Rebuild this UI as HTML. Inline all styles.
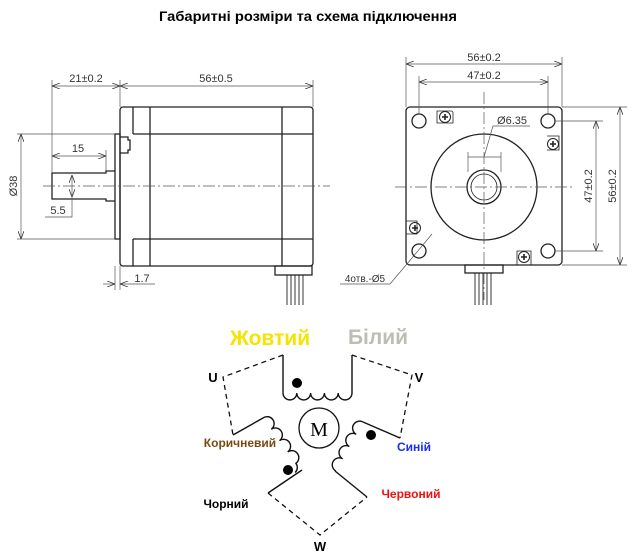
<!DOCTYPE html>
<html><head><meta charset="utf-8"><style>
html,body{margin:0;padding:0;background:#fff}
svg{display:block}
text{font-family:"Liberation Sans",sans-serif}
</style></head><body>
<svg width="635" height="554" viewBox="0 0 635 554" xmlns="http://www.w3.org/2000/svg">
<defs>
<marker id="a" markerWidth="8" markerHeight="6" refX="8" refY="3" orient="auto-start-reverse" markerUnits="userSpaceOnUse"><path d="M0,0 L8,3 L0,6" fill="none" stroke="#333" stroke-width="0.8"/></marker>
</defs>
<text x="308" y="21" text-anchor="middle" font-size="14" font-weight="bold" textLength="298" lengthAdjust="spacingAndGlyphs">Габаритні розміри та схема підключення</text>

<g stroke="#222" fill="none" stroke-width="1.3">
<!-- side view -->
<rect x="120" y="107" width="193" height="159" rx="3"/>
<line x1="150" y1="107" x2="150" y2="266"/><line x1="282" y1="107" x2="282" y2="266"/>
<line x1="133" y1="107" x2="133" y2="134"/><line x1="133" y1="239" x2="133" y2="266"/>
<line x1="133" y1="134" x2="313" y2="134"/><line x1="133" y1="239" x2="313" y2="239"/>
<rect x="115" y="134" width="5" height="105"/>
<path d="M120,137 h8 v3 h2 v10 h-2 v3 h-8"/>
<path d="M115,171 H106 V173 H52 V199 H106 V201 H115"/>
<rect x="275" y="266" width="37" height="9"/>
<path d="M287,275V305M291,275V305M295,275V305M299,275V305M303,275V305" stroke-width="0.9"/>
</g>
<g stroke="#555" fill="none" stroke-width="0.7">
<line x1="43" y1="186" x2="330" y2="186" stroke-dasharray="12,3,2,3"/>
<line x1="52" y1="80" x2="52" y2="173"/><line x1="120" y1="80" x2="120" y2="107"/><line x1="313" y1="80" x2="313" y2="107"/>
<line x1="52" y1="86" x2="120" y2="86" marker-start="url(#a)" marker-end="url(#a)"/>
<line x1="120" y1="86" x2="313" y2="86" marker-start="url(#a)" marker-end="url(#a)"/>
<line x1="17" y1="134" x2="115" y2="134"/><line x1="17" y1="239" x2="115" y2="239"/>
<line x1="21" y1="134" x2="21" y2="239" marker-start="url(#a)" marker-end="url(#a)"/>
<line x1="106" y1="150" x2="106" y2="171"/>
<line x1="52" y1="156" x2="106" y2="156" marker-start="url(#a)" marker-end="url(#a)"/>
<line x1="72" y1="175" x2="72" y2="197" marker-start="url(#a)" marker-end="url(#a)"/>
<polyline points="45,217 72,217 72,197"/>
<line x1="115" y1="266" x2="115" y2="290"/><line x1="120" y1="266" x2="120" y2="290"/>
<line x1="103" y1="284" x2="115" y2="284" marker-end="url(#a)"/>
<line x1="155" y1="284" x2="120" y2="284" marker-end="url(#a)"/>
</g>
<g fill="#333" font-size="11">
<text x="86" y="82" text-anchor="middle">21±0.2</text>
<text x="216" y="82" text-anchor="middle">56±0.5</text>
<text x="78" y="152" text-anchor="middle">15</text>
<text x="58" y="214" text-anchor="middle">5.5</text>
<text x="142" y="282" text-anchor="middle">1.7</text>
<text transform="translate(17,186) rotate(-90)" text-anchor="middle">Ø38</text>
</g>

<!-- front view -->
<g stroke="#222" fill="none" stroke-width="1.3">
<rect x="406" y="107" width="156" height="158" rx="4"/>
<circle cx="419" cy="121" r="7"/><circle cx="548" cy="121" r="7"/><circle cx="419" cy="251" r="7"/><circle cx="548" cy="251" r="7"/>
<circle cx="484" cy="187" r="53"/>
<circle cx="484" cy="187" r="17"/><circle cx="484" cy="187" r="13" stroke-width="0.8"/>
<rect x="465" y="265" width="38" height="8"/>
<path d="M475,273V305M479,273V305M483,273V305M487,273V305M491,273V305" stroke-width="0.9"/>
</g>
<g stroke="#222" fill="none" stroke-width="1">
<g transform="translate(445,117)"><path d="M-8,-6 h14 a2,2 0 0 1 2,2 v10 h-16z" stroke-width="0.8"/><circle r="5.5"/><path d="M-3,0h6M0,-3v6" stroke-width="1.6"/></g>
<g transform="translate(553,144)"><path d="M-6,-8 h12 v14 h-12" stroke-width="0.8"/><circle r="5.5"/><path d="M-3,0h6M0,-3v6" stroke-width="1.6"/></g>
<g transform="translate(415,228)"><path d="M-9,-7 h11 v13 h-11" stroke-width="0.8"/><circle r="5.5"/><path d="M-3,0h6M0,-3v6" stroke-width="1.6"/></g>
<g transform="translate(524,257)"><path d="M-7,8 v-14 h14 v14" stroke-width="0.8"/><circle r="5.5"/><path d="M-3,0h6M0,-3v6" stroke-width="1.6"/></g>
</g>
<g stroke="#555" fill="none" stroke-width="0.7">
<line x1="484" y1="92" x2="484" y2="300" stroke-dasharray="12,3,2,3"/>
<line x1="395" y1="187" x2="572" y2="187" stroke-dasharray="12,3,2,3"/>
<line x1="406" y1="57" x2="406" y2="107"/><line x1="562" y1="57" x2="562" y2="107"/>
<line x1="406" y1="64" x2="562" y2="64" marker-start="url(#a)" marker-end="url(#a)"/>
<line x1="419" y1="76" x2="419" y2="114"/><line x1="548" y1="76" x2="548" y2="114"/>
<line x1="419" y1="82" x2="548" y2="82" marker-start="url(#a)" marker-end="url(#a)"/>
<line x1="555" y1="121" x2="603" y2="121"/><line x1="555" y1="251" x2="603" y2="251"/>
<line x1="596" y1="121" x2="596" y2="251" marker-start="url(#a)" marker-end="url(#a)"/>
<line x1="562" y1="107" x2="627" y2="107"/><line x1="562" y1="265" x2="627" y2="265"/>
<line x1="620" y1="107" x2="620" y2="265" marker-start="url(#a)" marker-end="url(#a)"/>
<line x1="468" y1="152" x2="468" y2="172"/><line x1="501" y1="152" x2="501" y2="172"/>
<line x1="468" y1="157" x2="501" y2="157"/>
<polyline points="530,126 493,126 484,157"/>
<polyline points="340,284 390,284 412,258 432,234"/>
</g>
<g fill="#333" font-size="11">
<text x="484" y="61" text-anchor="middle">56±0.2</text>
<text x="484" y="79" text-anchor="middle">47±0.2</text>
<text x="512" y="124" text-anchor="middle">Ø6.35</text>
<text x="365" y="282" text-anchor="middle" font-size="10">4отв.-Ø5</text>
<text transform="translate(592,186) rotate(-90)" text-anchor="middle">47±0.2</text>
<text transform="translate(616,186) rotate(-90)" text-anchor="middle">56±0.2</text>
</g>

<!-- wiring -->
<g stroke="#111" fill="none" stroke-width="1.4">
<path d="M283,355 V393 a6.9,6.9 0 0 0 13.8,0 a6.9,6.9 0 0 0 13.8,0 a6.9,6.9 0 0 0 13.8,0 a6.9,6.9 0 0 0 13.8,0 a6.9,6.9 0 0 0 13.8,0 V355"/>
<g transform="translate(263,418) rotate(54)"><path d="M0,0 a7,7 0 0 1 14,0 a7,7 0 0 1 14,0 a7,7 0 0 1 14,0 a7,7 0 0 1 14,0 a7,7 0 0 1 7,6"/></g>
<path d="M302,470 L268,493"/>
<path d="M233,435 L263,418"/>
<g transform="translate(363,422) rotate(119)"><path d="M0,0 a7,7 0 0 0 14,0 a7,7 0 0 0 14,0 a7,7 0 0 0 14,0 a7,7 0 0 0 14,0"/></g>
<path d="M335,471 L367,497"/>
<path d="M363,422 L400,438"/>
</g>
<g stroke="#111" fill="none" stroke-width="1.3" stroke-dasharray="5,4">
<polyline points="283,355 223,377 233,435"/>
<polyline points="352,355 412,375 400,438"/>
<polyline points="268,493 320,535 367,497"/>
</g>
<circle cx="297" cy="383" r="5" fill="#000"/>
<circle cx="288" cy="470" r="5" fill="#000"/>
<circle cx="371" cy="435" r="5" fill="#000"/>
<circle cx="319" cy="428" r="20" fill="none" stroke="#111" stroke-width="1.3"/>
<text x="319" y="436" text-anchor="middle" font-size="20" style="font-family:'Liberation Serif',serif">M</text>
<g font-weight="bold">
<text x="270" y="345" text-anchor="middle" font-size="21" fill="#f5e400">Жовтий</text>
<text x="378" y="344" text-anchor="middle" font-size="21" fill="#bdbdb5">Білий</text>
<text x="213" y="382" text-anchor="middle" font-size="13">U</text>
<text x="419" y="382" text-anchor="middle" font-size="13">V</text>
<text x="320" y="551" text-anchor="middle" font-size="13">W</text>
<text x="240" y="447" text-anchor="middle" font-size="12" fill="#7a4a12">Коричневий</text>
<text x="414" y="451" text-anchor="middle" font-size="12" fill="#1a2cf0">Синій</text>
<text x="226" y="508" text-anchor="middle" font-size="12" fill="#000">Чорний</text>
<text x="411" y="498" text-anchor="middle" font-size="12" fill="#f01010">Червоний</text>
</g>
</svg>
</body></html>
